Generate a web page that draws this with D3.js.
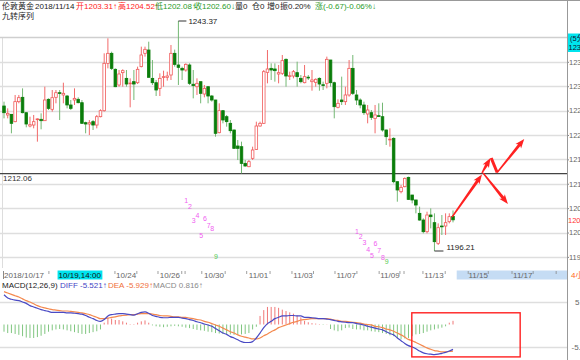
<!DOCTYPE html>
<html>
<head>
<meta charset="utf-8">
<script src="https://cdn.jsdelivr.net/npm/d3@7"></script>
<style>
  body { margin: 0; background: #fff; }
  svg { display: block; font-family: "Liberation Sans", Arial, "Noto Sans CJK SC", sans-serif; }
</style>
</head>
<body>
<div id="chart"></div>
<script>
// [open, high, low, close] per bar
const candles = [
  [1225.94,1226.83,1223.41,1224.57],[1224.10,1225.46,1223.41,1224.44],[1224.23,1224.30,1220.34,1222.39],
  [1222.73,1228.20,1222.60,1226.83],[1226.83,1228.20,1226.49,1227.65],[1227.72,1229.56,1224.44,1224.57],
  [1224.57,1224.60,1221.57,1222.25],[1221.84,1223.75,1221.57,1222.11],[1222.04,1224.10,1221.36,1222.73],
  [1223.20,1223.41,1218.63,1223.30],[1223.21,1224.44,1221.16,1222.93],[1222.93,1229.90,1222.90,1227.17],
  [1227.31,1227.51,1225.12,1225.46],[1225.26,1229.22,1224.78,1227.65],[1227.72,1229.22,1226.49,1228.67],
  [1228.67,1229.22,1223.07,1228.60],[1228.20,1230.72,1226.49,1228.54],[1227.99,1228.20,1225.46,1226.15],
  [1226.15,1227.17,1225.12,1225.46],[1227.17,1229.56,1226.15,1227.51],[1227.31,1227.72,1226.49,1226.62],
  [1226.62,1227.17,1222.30,1222.39],[1222.52,1222.73,1220.34,1222.25],[1222.25,1223.07,1219.99,1222.52],
  [1222.73,1223.07,1221.02,1222.04],[1222.04,1224.10,1221.36,1223.75],[1223.75,1225.26,1223.62,1224.98],
  [1224.98,1236.74,1224.78,1234.69],[1234.69,1239.82,1233.66,1236.74],[1236.74,1237.08,1233.32,1233.66],
  [1233.46,1233.66,1229.80,1229.90],[1230.25,1233.32,1229.90,1232.50],[1232.78,1233.46,1229.90,1233.19],
  [1231.61,1233.32,1229.90,1230.45],[1230.55,1231.61,1225.67,1230.65],[1230.93,1233.32,1227.17,1230.45],
  [1230.72,1234.01,1230.45,1233.46],[1234.01,1238.11,1233.87,1236.40],[1236.74,1238.11,1236.06,1237.56],
  [1237.42,1239.13,1231.80,1231.82],[1231.61,1235.37,1230.25,1230.72],[1230.72,1231.27,1227.99,1229.22],
  [1229.56,1232.64,1227.99,1231.61],[1231.82,1233.19,1229.90,1231.96],[1231.82,1232.98,1231.14,1232.09],
  [1232.30,1238.45,1231.27,1236.74],[1236.74,1237.50,1234.01,1234.48],[1234.35,1243.37,1230.25,1233.87],
  [1233.66,1234.01,1231.27,1233.32],[1233.32,1234.69,1232.98,1234.48],[1234.35,1234.69,1230.25,1230.59],
  [1230.40,1233.32,1227.51,1230.11],[1229.90,1231.61,1228.20,1230.59],[1230.93,1230.93,1226.49,1228.54],
  [1228.40,1230.25,1227.72,1229.56],[1229.90,1229.90,1226.49,1227.99],[1227.99,1228.20,1226.83,1227.17],
  [1227.17,1227.20,1219.65,1220.34],[1220.47,1226.49,1220.34,1224.98],[1224.98,1225.12,1222.39,1223.07],
  [1223.75,1224.10,1221.70,1222.73],[1222.39,1223.07,1220.34,1220.88],[1221.02,1221.10,1217.20,1217.26],
  [1217.74,1218.97,1214.87,1217.26],[1217.60,1218.63,1212.13,1214.18],[1214.18,1214.87,1213.50,1213.64],
  [1213.50,1214.87,1213.40,1214.53],[1215.21,1217.60,1214.87,1216.92],[1217.05,1222.73,1216.92,1221.84],
  [1221.84,1222.73,1221.70,1222.39],[1222.39,1233.32,1222.25,1232.98],[1232.84,1237.42,1230.59,1233.53],
  [1233.66,1234.69,1231.27,1233.32],[1233.53,1234.69,1230.93,1233.19],[1232.50,1234.35,1230.59,1232.78],
  [1232.64,1236.40,1232.30,1235.24],[1235.51,1235.70,1229.90,1232.09],[1232.05,1232.98,1231.27,1232.15],
  [1232.09,1233.32,1231.61,1232.98],[1232.78,1235.03,1229.90,1231.96],[1231.61,1232.30,1230.59,1230.93],
  [1230.72,1234.35,1230.59,1231.96],[1231.85,1232.30,1231.27,1231.75],[1230.93,1233.32,1229.08,1231.27],
  [1230.79,1231.61,1229.90,1231.41],[1231.61,1231.82,1229.08,1230.45],[1230.30,1230.93,1229.22,1230.20],
  [1230.59,1236.06,1229.56,1235.51],[1235.37,1235.40,1229.90,1230.72],[1230.72,1230.93,1223.41,1225.80],
  [1225.67,1227.31,1225.46,1226.49],[1227.17,1231.96,1226.15,1226.83],[1226.83,1229.90,1226.15,1228.20],
  [1228.20,1235.37,1227.85,1233.66],[1233.66,1236.40,1228.20,1228.54],[1228.20,1229.22,1226.15,1227.17],
  [1227.17,1227.51,1225.46,1226.15],[1226.15,1226.83,1224.10,1224.57],[1224.30,1226.15,1222.39,1225.12],
  [1224.57,1225.12,1223.07,1223.62],[1223.41,1226.15,1220.34,1224.10],[1223.95,1226.49,1223.75,1223.85],
  [1223.75,1226.62,1220.68,1221.02],[1221.02,1221.10,1217.94,1219.65],[1219.05,1221.36,1217.60,1219.15],
  [1219.31,1219.52,1210.08,1210.42],[1210.42,1210.50,1206.32,1208.72],[1208.37,1209.74,1208.03,1209.26],
  [1209.40,1211.30,1209.26,1211.10],[1211.31,1211.45,1206.67,1206.80],[1207.69,1207.70,1205.98,1206.67],
  [1206.67,1206.70,1203.93,1205.64],[1203.93,1205.30,1202.43,1202.56],[1202.56,1202.91,1199.83,1200.17],
  [1200.17,1204.27,1199.83,1203.59],[1203.59,1204.96,1200.85,1203.25],[1202.02,1203.93,1196.21,1198.12],
  [1197.78,1201.88,1197.44,1200.99],[1201.33,1203.59,1199.49,1201.19],[1201.33,1203.93,1199.49,1202.02],
  [1202.22,1203.93,1201.88,1203.25],[1203.31,1204.52,1202.08,1202.60]
];

const diff = [6.6,5.9,5.6,5.4,5.3,5.0,4.7,4.2,3.9,3.6,3.3,3.1,2.9,2.7,2.7,2.7,2.7,2.6,2.6,2.5,
  2.4,2.3,2.0,1.6,1.3,0.9,0.7,1.1,1.9,2.2,2.3,2.4,2.4,2.3,2.2,2.1,2.4,2.7,2.8,2.5,
  2.0,1.8,1.6,1.5,1.5,1.6,1.6,1.6,1.4,1.3,1.1,0.9,0.6,0.4,0.1,-0.1,-0.4,-0.9,-1.4,-1.9,
  -2.2,-2.7,-3.0,-3.4,-3.8,-4.0,-4.0,-3.8,-3.0,-1.9,-0.7,0.2,0.7,1.3,1.6,1.9,1.9,2.0,2.0,1.9,
  1.9,1.6,1.6,1.5,1.4,1.3,1.3,1.2,1.1,0.9,0.7,0.6,0.5,0.4,0.4,0.2,0.1,-0.1,-0.4,-0.6,
  -0.8,-1.0,-1.2,-1.6,-2.0,-2.3,-3.0,-3.6,-4.2,-4.7,-5.0,-5.4,-5.9,-6.3,-6.5,-6.6,-6.7,-6.6,-6.4,-6.2,
  -5.9,-5.521];
const dea = [7.3,7.0,6.7,6.4,6.1,5.7,5.3,5.0,4.6,4.2,3.9,3.7,3.5,3.3,3.2,3.1,3.0,3.0,2.9,2.8,
  2.7,2.6,2.4,2.2,1.9,1.6,1.3,1.3,1.4,1.6,1.7,1.9,2.0,2.1,2.2,2.2,2.3,2.4,2.4,2.4,
  2.3,2.2,2.0,1.9,1.9,1.8,1.7,1.7,1.6,1.6,1.4,1.3,1.1,1.0,0.7,0.5,0.2,-0.1,-0.4,-0.8,
  -1.2,-1.6,-1.9,-2.3,-2.6,-2.8,-3.0,-3.2,-3.2,-3.0,-2.5,-2.1,-1.6,-1.2,-0.7,-0.4,-0.1,0.2,0.5,0.7,
  1.0,1.1,1.2,1.3,1.3,1.3,1.3,1.3,1.2,1.0,0.9,0.7,0.7,0.6,0.5,0.4,0.3,0.1,0.0,-0.1,
  -0.4,-0.5,-0.7,-1.0,-1.2,-1.5,-1.9,-2.3,-2.8,-3.3,-3.6,-4.0,-4.4,-4.8,-5.2,-5.5,-5.8,-5.9,-6.1,-6.1,
  -6.0,-5.929];
const macdBar = [-1.6,-1.9,-1.9,-2.1,-2.3,-2.6,-2.9,-3.0,-3.0,-2.8,-2.5,-2.1,-1.6,-1.3,-1.1,-1.0,-1.1,-1.3,-1.5,-1.7,
  -1.9,-2.1,-2.1,-1.9,-1.7,-1.5,-1.1,0.4,1.5,1.3,1.0,1.0,0.7,0.4,0.1,0.1,0.4,0.7,0.9,0.4,
  -0.2,-0.4,-0.5,-0.6,-0.5,-0.4,-0.3,-0.4,-0.5,-0.7,-0.8,-1.0,-1.2,-1.3,-1.4,-1.6,-1.7,-1.9,-2.0,-2.1,
  -2.1,-2.2,-2.3,-2.3,-2.2,-2.1,-1.9,-1.1,-0.5,1.9,3.2,3.9,3.9,3.9,3.7,3.3,3.0,2.7,2.4,2.0,
  1.6,0.8,0.5,0.3,0.2,0.1,-0.1,0.05,-1.0,-1.3,-1.5,-1.3,-0.8,-0.7,-1.0,-1.1,-1.1,-1.3,-1.3,-1.5,
  -1.6,-1.7,-1.9,-2.1,-2.4,-2.6,-3.0,-3.3,-3.1,-3.0,-2.6,-2.2,-2.1,-1.9,-1.6,-1.3,-1.1,-0.9,-0.7,-0.4,
  0.4,0.816];

const priceGrid = [1240, 1235, 1230, 1225, 1220, 1215, 1210, 1205, 1200, 1195];
const macdGrid = [5, -5];
const refLine = 1212.06;
const lastClose = 1202.60;
const highMark = { idx: 47, price: 1243.37 };
const lowMark = { idx: 116, price: 1196.21 };

// 九转 numbers: bar index, height on the price scale, label
const td1Idx = [49, 50, 51, 52, 53, 54, 55, 56, 57];
const td1Pos = [1206.46, 1205.23, 1202.36, 1203.39, 1199.29, 1202.77, 1201.34, 1200.72, 1194.98];
const td2Idx = [95, 96, 97, 98, 99, 100, 101, 102, 103];
const td2Pos = [1200.1, 1199.08, 1197.85, 1196.6, 1195.2, 1197.65, 1196.2, 1194.8, 1193.95];
const tdNums = ["1", "2", "3", "4", "5", "6", "7", "8", "9"];

const dateLabels = ["2018/10/17", "10/19,14:00", "10/24", "10/26", "10/30", "11/01", "11/03", "11/07", "11/09", "11/13", "11/15", "11/17"];
const dateIdx = [5.4, 20.4, 32.9, 44.7, 56.6, 68.6, 80.6, 92.2, 104, 115.9, 127.8, 139.8];
const dateTickIdx = [12.1, 29.9, 35.8, 41.5, 47.9, 48.8, 53.3, 59.6, 65.4, 71.7, 77.6, 83.4, 89.2, 95.1,
  101.1, 106.7, 107.8, 112.9, 118.9, 125.1, 130.5, 136.9, 142.6, 148.8];

// hand drawn red arrows: [fromIdx, fromPrice, toIdx, toPrice, hasHead]
const arrows = [
  [120.75, 1203.18, 128.8, 1211.9, 1],
  [128.8, 1212.2, 131.1, 1215.28, 1],
  [131.3, 1215.28, 132.9, 1212.31, 0],
  [132.9, 1212.31, 140.2, 1219.2, 1],
  [129.1, 1212.2, 135.8, 1205.85, 1]
];
const boxIdx = [109.9, 139.1];
const boxVal = [2.6, -7.2];

const header = [
  [2, "伦敦黄金", "#222"], [35, "2018/11/14", "#222"],
  [76, "开1203.31↑", "#f22"], [118, "高1204.52↑", "#f22"],
  [155, "低1202.08↑", "#2a9a2a"], [194, "收1202.60↓", "#2a9a2a"],
  [235, "量0", "#222"], [252, "仓0", "#222"], [267, "增0", "#222"],
  [280, "振0.20%", "#222"], [315, "涨(-0.67)-0.06%↓", "#2a9a2a"]
];
const macdTitle = [
  [2, "MACD(12,26,9)", "#222"], [60, "DIFF -5.521↑", "#4444c4"],
  [108, "DEA -5.929↑", "#f0703a"], [153, "MACD 0.816↑", "#8a8a8a"]
];

const W = 580, H = 360, AX = 567;
const svg = d3.select("#chart").append("svg").attr("width", W).attr("height", H);

const x = d3.scaleLinear().domain([0, candles.length - 1]).range([4, 453]);
const y = d3.scaleLinear().domain([1196.21, 1243.37]).range([251, 21]);
const my = d3.scaleLinear().domain([-5, 5]).range([347, 302]);

// frame
svg.append("line").attr("x1", 0).attr("x2", W).attr("y1", 0.5).attr("y2", 0.5).attr("stroke", "#999");
svg.append("line").attr("x1", 2.5).attr("x2", 2.5).attr("y1", y(1240)).attr("y2", 268).attr("stroke", "#ddd");

// price grid
svg.selectAll(".pgrid").data(priceGrid).enter().append("line")
  .attr("x1", 0).attr("x2", AX)
  .attr("y1", d => Math.round(y(d)) + 0.5).attr("y2", d => Math.round(y(d)) + 0.5)
  .attr("stroke", d => d === 1240 ? "#cfcfcf" : "#dedede").attr("stroke-width", 1.4);

svg.selectAll(".mgrid").data(macdGrid).enter().append("line")
  .attr("x1", 0).attr("x2", AX)
  .attr("y1", d => Math.round(my(d)) + 0.5).attr("y2", d => Math.round(my(d)) + 0.5)
  .attr("stroke", "#dedede").attr("stroke-width", 1.4);

// 1212.06 line
svg.append("line").attr("x1", 0).attr("x2", AX)
  .attr("y1", y(refLine)).attr("y2", y(refLine))
  .attr("stroke", "#444").attr("stroke-width", 1.3);
svg.append("text").attr("x", 3).attr("y", y(refLine) + 7.5)
  .attr("font-size", 8).attr("fill", "#333").text(refLine.toFixed(2));

// candles
const up = d => d[3] >= d[0];
const bw = 2.6;
const cg = svg.append("g");
cg.selectAll(".wick").data(candles).enter().append("line")
  .attr("x1", (d, i) => x(i)).attr("x2", (d, i) => x(i))
  .attr("y1", d => y(d[1])).attr("y2", d => y(d[2]))
  .attr("stroke", d => up(d) ? "#f26a6a" : "#74b874").attr("stroke-width", 1);
cg.selectAll(".body").data(candles).enter().append("rect")
  .attr("x", (d, i) => x(i) - bw / 2)
  .attr("y", d => y(Math.max(d[0], d[3])))
  .attr("width", bw)
  .attr("height", d => Math.max(0.8, Math.abs(y(d[0]) - y(d[3]))))
  .attr("fill", d => up(d) ? "#fff" : "#0a7d0a")
  .attr("stroke", d => up(d) ? "#f05a5a" : "#0a7d0a")
  .attr("stroke-width", 0.8);

// high / low marks
const hx = x(highMark.idx), hy = y(highMark.price);
svg.append("line").attr("x1", hx).attr("x2", hx + 8).attr("y1", hy).attr("y2", hy).attr("stroke", "#333");
svg.append("text").attr("x", hx + 10).attr("y", hy + 3).attr("font-size", 8).attr("fill", "#222").text(highMark.price.toFixed(2));
const lx = x(lowMark.idx), ly = y(lowMark.price);
svg.append("line").attr("x1", lx).attr("x2", lx + 9).attr("y1", ly).attr("y2", ly).attr("stroke", "#333");
svg.append("text").attr("x", lx + 12).attr("y", ly - 1).attr("font-size", 8).attr("fill", "#222").text(lowMark.price.toFixed(2));

// 九转 numbers
function drawTd(idx, pos) {
  svg.append("g").selectAll("text").data(idx).enter().append("text")
    .attr("x", d => x(d) + 0.5).attr("y", (d, k) => y(pos[k]))
    .attr("dy", "0.35em").attr("text-anchor", "middle")
    .attr("font-size", 7)
    .attr("fill", (d, k) => k === 8 ? "#55cc55" : "#f060f0")
    .text((d, k) => tdNums[k]);
}
drawTd(td1Idx, td1Pos);
drawTd(td2Idx, td2Pos);

// arrows
function arrowPts(x0, y0, x1, y1, head) {
  const dx = x1 - x0, dy = y1 - y0, L = Math.hypot(dx, dy);
  const ux = dx / L, uy = dy / L, nx = -uy, ny = ux;
  const hl = head ? 8 : 0, hw = 3.6, w0 = 0.7, w1 = 1.5;
  const bx = x1 - ux * hl, by = y1 - uy * hl;
  if (!head) {
    return [[x0 + nx * w1, y0 + ny * w1], [x1 + nx * w1, y1 + ny * w1], [x1 - nx * w1, y1 - ny * w1], [x0 - nx * w1, y0 - ny * w1]];
  }
  return [[x0 + nx * w0, y0 + ny * w0], [bx + nx * w1, by + ny * w1], [bx - ux * 1.5 + nx * hw, by - uy * 1.5 + ny * hw],
    [x1, y1], [bx - ux * 1.5 - nx * hw, by - uy * 1.5 - ny * hw], [bx - nx * w1, by - ny * w1], [x0 - nx * w0, y0 - ny * w0]];
}
svg.append("g").selectAll("polygon").data(arrows).enter().append("polygon")
  .attr("points", d => arrowPts(x(d[0]), y(d[1]), x(d[2]), y(d[3]), d[4]).map(p => p.join(",")).join(" "))
  .attr("fill", "#ff2222");

// right price axis (labels run off the window, as in the original)
const pAxis = svg.append("g").attr("transform", `translate(${AX},0)`)
  .call(d3.axisRight(y).tickValues(priceGrid.filter(p => p < 1240)).tickSize(2).tickPadding(0).tickFormat(d3.format(".2f")));
pAxis.select(".domain").remove();
pAxis.selectAll("line").attr("stroke", "#888");
pAxis.selectAll("text").attr("font-size", 7.5).attr("fill", "#666").attr("font-family", "Liberation Sans, Arial");
svg.append("text").attr("x", AX + 1).attr("y", y(lastClose) + 1).attr("dy", "0.35em")
  .attr("font-size", 7.5).attr("fill", "#f33").text(lastClose.toFixed(2));

svg.append("line").attr("x1", AX + 0.5).attr("x2", AX + 0.5).attr("y1", 0).attr("y2", H).attr("stroke", "#999");

// cyan corner box
svg.append("rect").attr("x", AX + 1).attr("y", 33.5).attr("width", W - AX).attr("height", 18.5).attr("fill", "#00e4ee");
svg.append("text").attr("x", AX + 3).attr("y", 41).attr("font-size", 7.5).attr("fill", "#113").text("(5分钟)");
svg.append("text").attr("x", AX + 1.5).attr("y", 50).attr("font-size", 7.5).attr("fill", "#113").text("123");

// header text
svg.append("g").selectAll("text").data(header).enter().append("text")
  .attr("x", d => d[0]).attr("y", 9).attr("font-size", 8).attr("fill", d => d[2]).text(d => d[1]);
svg.append("text").attr("x", 2).attr("y", 19).attr("font-size", 8).attr("fill", "#222").text("九转序列");

// date strip
const stripTop = 270.5, stripH = 9;
svg.append("rect").attr("x", x(candles.length)).attr("y", stripTop)
  .attr("width", AX - x(candles.length)).attr("height", stripH).attr("fill", "#c5dcf4");
const dg = svg.append("g");
const dt = dg.selectAll("text").data(dateLabels).enter().append("text")
  .attr("x", (d, i) => x(dateIdx[i])).attr("y", 277.5)
  .attr("text-anchor", "middle").attr("font-size", 8)
  .attr("fill", (d, i) => i === 1 ? "#111" : "#666").text(d => d);
const hb = dt.filter((d, i) => i === 1).node().getBBox();
dg.insert("rect", "text").attr("x", hb.x - 1).attr("y", stripTop).attr("width", hb.width + 2).attr("height", stripH).attr("fill", "#00e4ee");
svg.append("g").selectAll("line").data(dateTickIdx).enter().append("line")
  .attr("x1", d => x(d)).attr("x2", d => x(d)).attr("y1", 271).attr("y2", 274)
  .attr("stroke", "#888").attr("stroke-width", 0.8);
svg.append("line").attr("x1", 3.5).attr("x2", 3.5).attr("y1", 271).attr("y2", 279).attr("stroke", "#888");
svg.append("text").attr("x", AX + 4).attr("y", 277.5).attr("font-size", 8).attr("fill", "#ff6a1a").text("4小时");

// MACD title
svg.append("g").selectAll("text").data(macdTitle).enter().append("text")
  .attr("x", d => d[0]).attr("y", 288).attr("font-size", 8).attr("fill", d => d[2]).text(d => d[1]);

// MACD bars
svg.append("g").selectAll("line").data(macdBar).enter().append("line")
  .attr("x1", (d, i) => x(i)).attr("x2", (d, i) => x(i))
  .attr("y1", my(0)).attr("y2", d => my(d))
  .attr("stroke", d => d >= 0 ? "#f07878" : "#80c680").attr("stroke-width", 1);

const ln = d3.line().x((d, i) => x(i)).y(d => my(d)).curve(d3.curveMonotoneX);
svg.append("path").datum(dea).attr("d", ln).attr("fill", "none").attr("stroke", "#f4894e").attr("stroke-width", 1.2);
svg.append("path").datum(diff).attr("d", ln).attr("fill", "none").attr("stroke", "#4a4ac4").attr("stroke-width", 1.2);

// MACD axis labels
svg.append("g").selectAll("text").data(macdGrid).enter().append("text")
  .attr("x", d => d < 0 ? AX + 4.5 : AX + 8).attr("y", d => my(d)).attr("dy", "0.35em")
  .attr("font-size", 8).attr("fill", "#666").text(d => d.toFixed(2));

// red box
svg.append("rect")
  .attr("x", x(boxIdx[0])).attr("y", my(boxVal[0]))
  .attr("width", x(boxIdx[1]) - x(boxIdx[0])).attr("height", my(boxVal[1]) - my(boxVal[0]))
  .attr("fill", "none").attr("stroke", "#ff2020").attr("stroke-width", 1.4);
</script>
</body>
</html>
